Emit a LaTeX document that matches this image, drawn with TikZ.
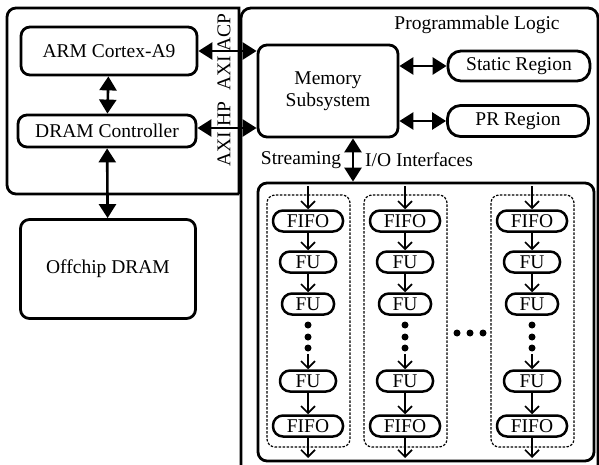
\documentclass[tikz,border=0pt]{standalone}
\usepackage{fontspec}
\setmainfont{Liberation Serif}
\usetikzlibrary{arrows.meta, positioning}

\begin{document}
\begin{tikzpicture}[x=1pt, y=-1pt,
  font=\fontsize{19.5}{22}\selectfont,
  blk/.style={draw, line width=2.8pt, rounded corners=9pt, inner sep=0pt, align=center},
  region/.style={draw, line width=2.8pt, rounded corners=13pt, inner sep=0pt},
  pill/.style={draw, line width=2.5pt, rounded corners=10pt, inner sep=0pt, minimum height=21pt},
  big/.style={line width=2.6pt, {Triangle[length=14pt,width=17pt]}-{Triangle[length=14pt,width=17pt]}},
  flow/.style={line width=1.7pt, -{Straight Barb[length=7pt,width=14pt]}},
  grp/.style={draw, line width=1.2pt, dash pattern=on 2.5pt off 1.5pt, rounded corners=8pt}]
  \useasboundingbox (0,0) rectangle (599,465);

  \draw[line width=2.8pt] (239,194) -- (239,8) [rounded corners=9pt] -- (7,8) -- (7,194) -- (239,194);
  \draw[line width=2.8pt, rounded corners=10pt] (241,480) -- (241,8) -- (598,8) -- (598,480);
  \node (pl) at (477,25) {Programmable Logic};

  \node[blk, minimum width=176pt, minimum height=48pt] (arm) at (109,51) {ARM Cortex-A9};
  \node[blk, minimum width=178pt, minimum height=32pt] (dram) at (107,131) {DRAM Controller};
  \node[blk, minimum width=175pt, minimum height=99pt] (off) at (108,269) {Offchip DRAM};
  \node[rotate=90] (acp) at (224,52) {AXI ACP};
  \node[rotate=90] (hp) at (224,134) {AXI HP};

  \node[blk, minimum width=140pt, minimum height=92pt] (mem) at (328,91) {Memory\\Subsystem};
  \node[region, minimum width=142pt, minimum height=30pt] (static) at (519,66) {Static Region};
  \node[region, minimum width=141pt, minimum height=31pt] (pr) at (518,121) {PR Region};
  \node[blk, minimum width=336pt, minimum height=278pt] (sio) at (426,322) {};

  \draw[big] (arm) -- (dram);
  \draw[big] (dram) -- (off);
  \draw[big] (arm.east) -- (arm.east -| mem.west);
  \draw[big] ([yshift=3pt]dram.east) -- ([yshift=3pt]dram.east -| mem.west);
  \draw[big] (mem.east |- static) -- (static.west);
  \draw[big] (mem.east |- pr) -- (pr.west);
  \coordinate (io) at (353,0);
  \draw[big] (mem.south -| io) -- (sio.north -| io);
  \node (strm) at (301,160) {Streaming};
  \node (ioif) at (419,160) {I/O Interfaces};

  \foreach \c/\x in {a/308, b/405, c/532} {
    \node[pill, minimum width=70pt] (fifoin\c) at (\x,221) {FIFO};
    \node[pill, minimum width=56pt] (fua\c) at (\x,262) {FU};
    \node[pill, minimum width=52pt] (fub\c) at (\x,304) {FU};
    \node[pill, minimum width=56pt] (fuc\c) at (\x,381) {FU};
    \node[pill, minimum width=70pt] (fifoout\c) at (\x,426) {FIFO};
    \foreach \y in {325, 337, 348}
      \fill (\x,\y) circle (3.5pt);
    \coordinate (src\c) at (\x,186);
    \coordinate (gap\c) at (\x,354);
    \coordinate (snk\c) at (\x,458);
    \draw[flow] (src\c) -- (fifoin\c);
    \draw[flow] (fifoin\c) -- (fua\c);
    \draw[flow] (fua\c) -- (fub\c);
    \draw[flow] (gap\c) -- (fuc\c);
    \draw[flow] (fuc\c) -- (fifoout\c);
    \draw[flow] (fifoout\c) -- (snk\c);
    \draw[grp] (\x-41,195) rectangle (\x+42,447);
  }
  \foreach \x in {457, 470, 483}
    \fill (\x,333) circle (3.5pt);
\end{tikzpicture}
\end{document}
